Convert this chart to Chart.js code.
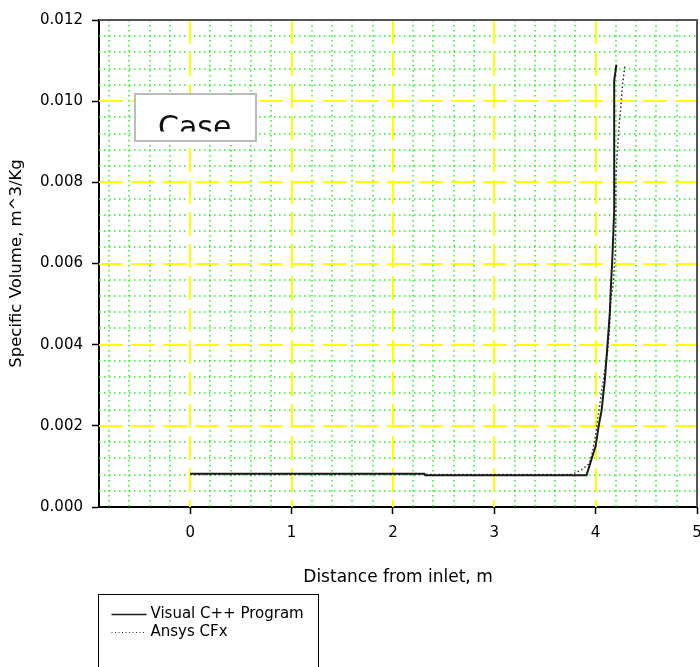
<!DOCTYPE html>
<html>
<head>
<meta charset="utf-8">
<script src="https://cdn.jsdelivr.net/npm/chart.js@4.4.0/dist/chart.umd.min.js"></script>
<style>
  html, body { margin: 0; padding: 0; background: #fff; }
  #chart { display: block; }
</style>
</head>
<body>
<canvas id="chart" width="700" height="667"></canvas>
<script>
// data
const visualX = [0, 2.31, 2.32, 3.91, 4.00, 4.03, 4.06, 4.076, 4.09, 4.12, 4.14, 4.15, 4.166, 4.183, 4.183, 4.205];
const visualY = [0.00082, 0.00082, 0.00078, 0.00078, 0.0015, 0.0020, 0.0024, 0.0028, 0.0031, 0.0041, 0.0048, 0.0054, 0.0062, 0.0073, 0.0105, 0.0109];

const ansysX = [0, 3.75, 3.80, 3.865, 3.94, 3.97, 4.00, 4.02, 4.045, 4.068, 4.118, 4.134, 4.15, 4.173, 4.193, 4.20, 4.20, 4.215, 4.232, 4.25, 4.265, 4.29];
const ansysY = [0.00080, 0.00080, 0.00084, 0.00092, 0.00108, 0.00137, 0.0018, 0.00215, 0.0026, 0.0030, 0.00383, 0.00428, 0.0051, 0.0055, 0.00625, 0.0073, 0.0081, 0.0088, 0.0094, 0.0099, 0.0104, 0.0109];

const seriesLabels = ['Visual C++ Program', 'Ansys CFx'];
const xTickValues = [0, 1, 2, 3, 4, 5];
const yTickValues = [0, 0.002, 0.004, 0.006, 0.008, 0.010, 0.012];
const xMin = -0.9, xMax = 5;
const yMin = 0, yMax = 0.012;
const xMinorStep = 0.2, yMinorStep = 0.0004;
const xTitle = 'Distance from inlet, m';
const yTitle = 'Specific Volume, m^3/Kg';
const noteText = 'Case';

const FONT = 'DejaVu Sans';

const toPoints = (xs, ys) => xs.map((x, i) => ({ x: x, y: ys[i] }));

function vline(ctx, px, a) {
  ctx.beginPath(); ctx.moveTo(px, a.top); ctx.lineTo(px, a.bottom); ctx.stroke();
}
function hline(ctx, py, a) {
  ctx.beginPath(); ctx.moveTo(a.left, py); ctx.lineTo(a.right, py); ctx.stroke();
}

// minor green dotted grid + major yellow dashed grid, plus the boxes
const chartDecor = {
  id: 'chartDecor',
  beforeDatasetsDraw(chart) {
    const { ctx, chartArea: a, scales: { x, y } } = chart;
    ctx.save();
    ctx.beginPath();
    ctx.rect(a.left, a.top, a.right - a.left, a.bottom - a.top);
    ctx.clip();

    ctx.lineWidth = 1.5;
    ctx.strokeStyle = '#22f022';
    ctx.setLineDash([1.5, 3.5]);
    for (let k = Math.ceil(xMin / xMinorStep); k * xMinorStep <= xMax; k++) {
      if (k % 5 === 0) continue;
      vline(ctx, Math.round(x.getPixelForValue(k * xMinorStep)), a);
    }
    for (let k = 1; k * yMinorStep < yMax; k++) {
      if (k % 5 === 0) continue;
      hline(ctx, Math.round(y.getPixelForValue(k * yMinorStep)), a);
    }

    ctx.lineWidth = 2;
    ctx.strokeStyle = '#ffff00';
    ctx.setLineDash([24, 8]);
    xTickValues.forEach(v => {
      if (v > xMin && v < xMax) vline(ctx, Math.round(x.getPixelForValue(v)), a);
    });
    yTickValues.forEach(v => {
      if (v > yMin && v < yMax) hline(ctx, Math.round(y.getPixelForValue(v)), a);
    });
    ctx.restore();
  },
  afterDraw(chart) {
    const { ctx, chartArea: a } = chart;
    ctx.save();

    // top and right frame
    ctx.strokeStyle = '#555';
    ctx.lineWidth = 2;
    ctx.beginPath();
    ctx.moveTo(a.left, a.top);
    ctx.lineTo(a.right, a.top);
    ctx.lineTo(a.right, a.bottom);
    ctx.stroke();

    // "Case" text box, its text cut off at the bottom
    const bx = a.left + 36, by = a.top + 74, bw = 121, bh = 47;
    ctx.fillStyle = '#fff';
    ctx.fillRect(bx, by, bw, bh);
    ctx.strokeStyle = '#bbbbbb';
    ctx.lineWidth = 2;
    ctx.strokeRect(bx, by, bw, bh);
    ctx.save();
    ctx.beginPath();
    ctx.rect(bx, by, bw, 37.5);
    ctx.clip();
    ctx.fillStyle = '#111';
    ctx.font = '30px "' + FONT + '"';
    ctx.textBaseline = 'alphabetic';
    ctx.fillText(noteText, bx + 23, by + 43);
    ctx.restore();

    // legend box under the chart
    const lx = 98.5, ly = 594.5;
    ctx.strokeStyle = '#000';
    ctx.lineWidth = 1;
    ctx.setLineDash([]);
    ctx.strokeRect(lx, ly, 220, 100);
    ctx.font = '15px "' + FONT + '"';
    ctx.textBaseline = 'middle';
    ctx.fillStyle = '#000';
    chart.data.datasets.forEach((ds, i) => {
      const ry = 614 + i * 18;
      ctx.save();
      ctx.strokeStyle = ds.borderColor;
      ctx.lineWidth = i === 0 ? 1.6 : 1;
      ctx.setLineDash(i === 0 ? [] : [1, 2.5]);
      ctx.beginPath();
      ctx.moveTo(lx + 13, ry + 0.5);
      ctx.lineTo(lx + 48, ry + 0.5);
      ctx.stroke();
      ctx.restore();
      ctx.fillText(ds.label, lx + 52, ry);
    });
    ctx.restore();
  }
};

new Chart(document.getElementById('chart'), {
  type: 'line',
  data: {
    datasets: [
      {
        label: seriesLabels[0],
        data: toPoints(visualX, visualY),
        borderColor: '#1a1a1a',
        borderWidth: 2,
        pointRadius: 0,
        tension: 0,
        fill: false
      },
      {
        label: seriesLabels[1],
        data: toPoints(ansysX, ansysY),
        borderColor: '#333',
        borderWidth: 1.5,
        borderDash: [1.5, 2.5],
        pointRadius: 0,
        tension: 0,
        fill: false
      }
    ]
  },
  options: {
    responsive: false,
    animation: false,
    devicePixelRatio: 1,
    layout: { padding: { top: 20, left: 0, right: 3, bottom: 79 } },
    plugins: {
      legend: { display: false },
      tooltip: { enabled: false }
    },
    scales: {
      x: {
        type: 'linear',
        min: xMin,
        max: xMax,
        afterBuildTicks: s => { s.ticks = xTickValues.map(v => ({ value: v })); },
        afterFit: s => { s.height = 81; s.paddingLeft = 0; s.paddingRight = 0; },
        ticks: {
          color: '#000',
          font: { family: FONT, size: 15 },
          padding: 10,
          maxRotation: 0,
          autoSkip: false
        },
        grid: { drawOnChartArea: false, tickLength: 7, tickColor: '#000', tickWidth: 1.5 },
        border: { color: '#000', width: 2 },
        title: {
          display: true,
          text: xTitle,
          color: '#000',
          font: { family: FONT, size: 17 },
          padding: { top: 4, bottom: 0 }
        }
      },
      y: {
        type: 'linear',
        min: yMin,
        max: yMax,
        afterBuildTicks: s => { s.ticks = yTickValues.map(v => ({ value: v })); },
        afterFit: s => { s.width = 99; },
        ticks: {
          color: '#000',
          font: { family: FONT, size: 15 },
          padding: 9,
          callback: v => Number(v).toFixed(3)
        },
        grid: { drawOnChartArea: false, tickLength: 7, tickColor: '#000', tickWidth: 1.5 },
        border: { color: '#000', width: 2 },
        title: {
          display: true,
          text: yTitle,
          color: '#000',
          font: { family: FONT, size: 16.5 },
          padding: { top: 7, bottom: 0 }
        }
      }
    }
  },
  plugins: [chartDecor]
});
</script>
</body>
</html>
